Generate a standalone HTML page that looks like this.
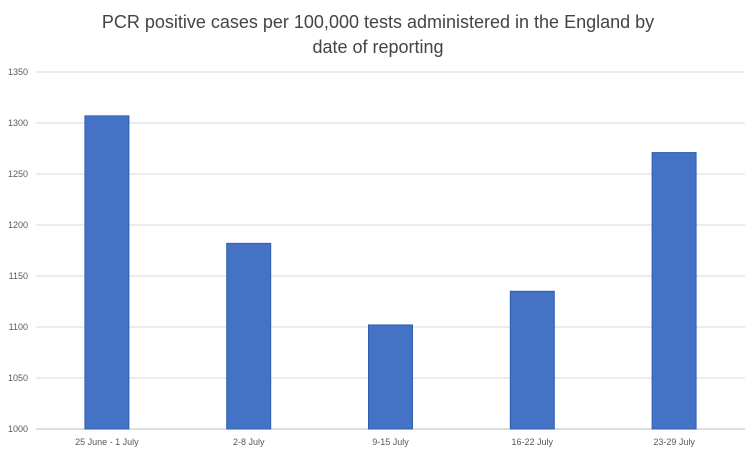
<!DOCTYPE html>
<html><head><meta charset="utf-8"><style>
html,body{margin:0;padding:0;background:#fff;}
body{width:754px;height:453px;overflow:hidden;font-family:"Liberation Sans",sans-serif;}
</style></head><body>
<svg id="chart" width="754" height="453" xmlns="http://www.w3.org/2000/svg">
<text x="378" y="28" text-anchor="middle" font-size="18" fill="#444">PCR positive cases per 100,000 tests administered in the England by</text>
<text x="378" y="53" text-anchor="middle" font-size="18" fill="#444">date of reporting</text>
<g id="grid"></g><g id="bars"></g><g id="labels"></g>
</svg>
<script>
const categories = ["25 June - 1 July","2-8 July","9-15 July","16-22 July","23-29 July"];
const values = [1307,1182,1102,1135,1271];
const yTicks = [1000,1050,1100,1150,1200,1250,1300,1350];
const NS="http://www.w3.org/2000/svg";
const pLeft=36,pRight=745,pTop=72,pBottom=429,yMin=1000,yMax=1350;
const yS=v=>pBottom-(v-yMin)/(yMax-yMin)*(pBottom-pTop);
const bw=(pRight-pLeft)/categories.length;
const xS=i=>pLeft+bw*i+bw/2;
function mk(t,a,p){const e=document.createElementNS(NS,t);for(const k in a)e.setAttribute(k,a[k]);p.appendChild(e);return e;}
const grid=document.getElementById('grid'),bars=document.getElementById('bars'),labels=document.getElementById('labels');
yTicks.forEach(t=>{
 const l=mk('line',{x1:pLeft,x2:pRight,y1:yS(t),y2:yS(t),stroke:t===yMin?'#bfbfbf':'#d9d9d9','stroke-width':1},grid);
 
 
 const tx=mk('text',{x:28,y:yS(t)+3,'text-anchor':'end','font-size':9,fill:'#595959'},labels);
 tx.textContent=t;
 
 
});
values.forEach((v,i)=>{
 const r=mk('rect',{x:xS(i)-22,y:yS(v),width:44,height:pBottom-yS(v),fill:'#4472c4',stroke:'#2f5fb3','stroke-width':1},bars);
 
 
 const tx=mk('text',{x:xS(i),y:445,'text-anchor':'middle','font-size':9,fill:'#595959'},labels);
 tx.textContent=categories[i];
 
 
});
</script>
</body></html>
